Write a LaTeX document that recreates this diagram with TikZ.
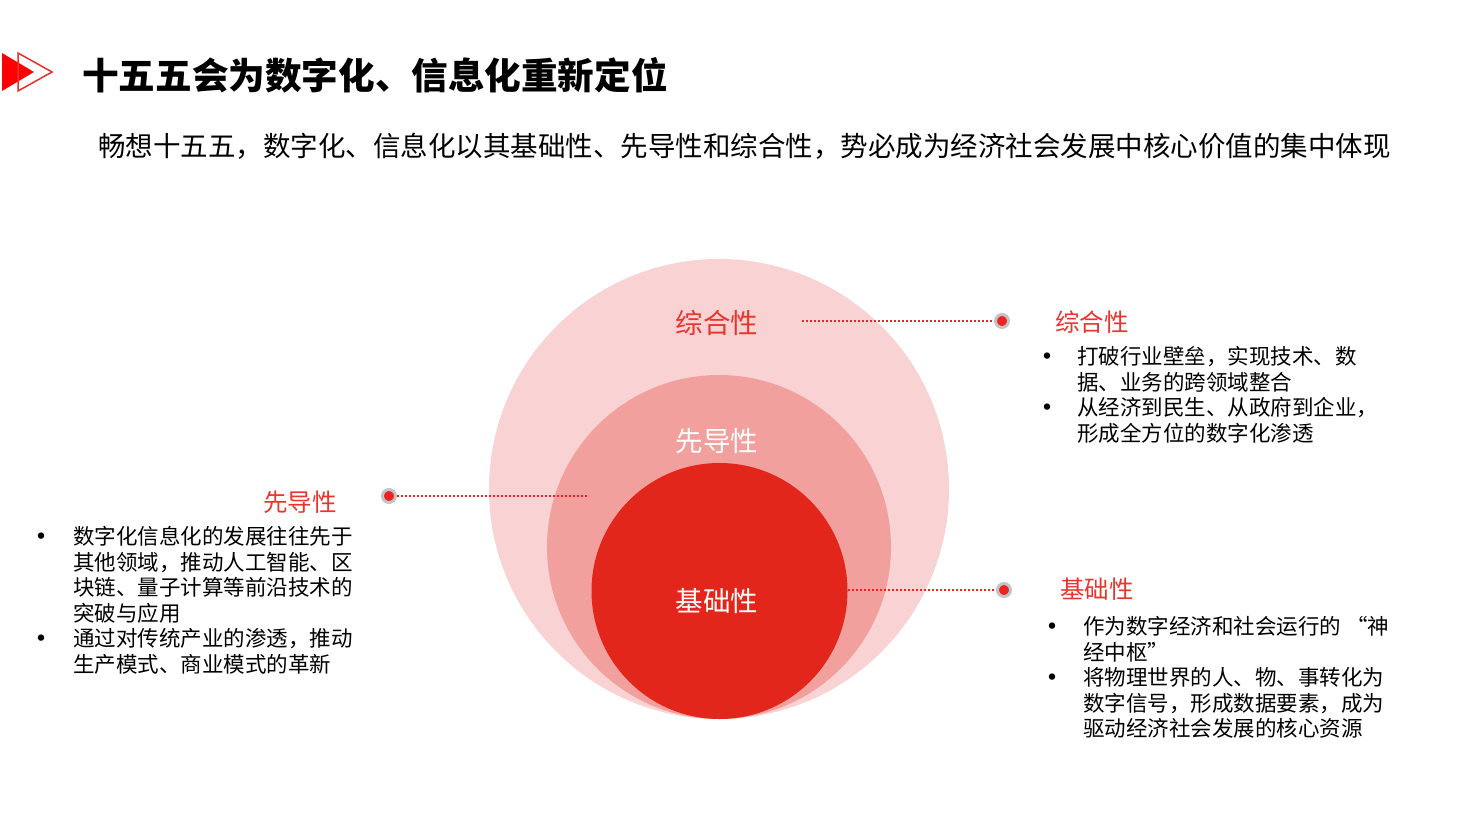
\documentclass[tikz,border=0pt]{standalone}
\usepackage{fontspec}
\setmainfont{Noto Sans CJK SC}
\definecolor{pinkA}{HTML}{F9D3D3}
\definecolor{pinkB}{HTML}{F2A09D}
\definecolor{redC}{HTML}{E3261B}
\definecolor{redT}{HTML}{E8352E}
\definecolor{dotred}{HTML}{EE2222}
\definecolor{ringgray}{HTML}{C4C4C4}
\definecolor{iconred}{HTML}{E8302A}
\tikzset{
  ring/.style={circle, inner sep=0pt, draw=none},
  circlabel/.style={font=\fontsize{27.5}{30}\selectfont, inner sep=0pt},
  dotmark/.style={circle, inner sep=0pt, minimum size=13pt, fill=dotred, draw=ringgray, line width=3pt},
  dotline/.style={draw=dotred, line width=2pt, dash pattern=on 2pt off 2pt},
  heading/.style={font=\fontsize{24.5}{28}\selectfont, text=redT, inner sep=0pt, anchor=west},
  item/.style={font=\fontsize{21.5}{25.5}\selectfont, align=left, inner sep=0pt, anchor=north west},
  bul/.style={font=\fontsize{30}{32}\selectfont, inner sep=0pt},
}
\begin{document}
\begin{tikzpicture}[x=1pt,y=-1pt]
\useasboundingbox (0,0) rectangle (1460,821);
% icon
\fill[red] (2,53) -- (34,72) -- (2,91) -- cycle;
\draw[iconred, line width=1.5pt, line join=miter] (18,53) -- (52,72) -- (18,91) -- cycle;
% title
\node[font=\bfseries\fontsize{36.6}{40}\selectfont, anchor=west, inner sep=0pt] (title) at (82,75) {十五五会为数字化、信息化重新定位};
\node[font=\fontsize{27.5}{32}\selectfont, anchor=west, inner sep=0pt] (sub) at (98,146) {畅想十五五，数字化、信息化以其基础性、先导性和综合性，势必成为经济社会发展中核心价值的集中体现};
% circles
\node[ring, fill=pinkA, minimum size=460pt] (outer) at (719,489) {};
\node[ring, fill=pinkB, minimum size=344pt] (middle) at (719,547) {};
\node[ring, fill=redC, minimum size=256pt] (inner) at (719.5,591) {};
\node[circlabel, text=redT] (l1) at (717,323) {综合性};
\node[circlabel, text=white] (l2) at (717,441) {先导性};
\node[circlabel, text=white] (l3) at (717,601) {基础性};
% connectors
\coordinate (c1) at (802,321);
\coordinate (c2) at (589,496);
\coordinate (c3) at (848,590);
\node[dotmark] (d1) at (1002,321) {};
\node[dotmark] (d2) at (389,496) {};
\node[dotmark] (d3) at (1004,590) {};
\draw[dotline] (c1) -- (d1.west);
\draw[dotline] (d2.east) -- (c2);
\draw[dotline] (c3) -- (d3.west);
% right top block
\node[heading] (h1) at (1055,322) {综合性};
\node[bul] (b11) at (1047,360) {•};
\node[item] (t11) at (1077,346.5) {打破行业壁垒，实现技术、数\\据、业务的跨领域整合};
\node[bul] (b12) at (1047,411) {•};
\node[item] (t12) at (1077,397.5) {从经济到民生、从政府到企业，\\形成全方位的数字化渗透};
% bottom right block
\node[heading] (h3) at (1060,589) {基础性};
\node[bul] (b31) at (1052,630) {•};
\node[item] (t31) at (1083,616.5) {作为数字经济和社会运行的 “神\\经中枢”};
\node[bul] (b32) at (1052,681) {•};
\node[item] (t32) at (1083,667.5) {将物理世界的人、物、事转化为\\数字信号，形成数据要素，成为\\驱动经济社会发展的核心资源};
% left block
\node[heading] (h2) at (263,502) {先导性};
\node[bul] (b21) at (42,540) {•};
\node[item] (t21) at (73,526.5) {数字化信息化的发展往往先于\\其他领域，推动人工智能、区\\块链、量子计算等前沿技术的\\突破与应用};
\node[bul] (b22) at (42,642) {•};
\node[item] (t22) at (73,628.5) {通过对传统产业的渗透，推动\\生产模式、商业模式的革新};
\end{tikzpicture}
\end{document}
